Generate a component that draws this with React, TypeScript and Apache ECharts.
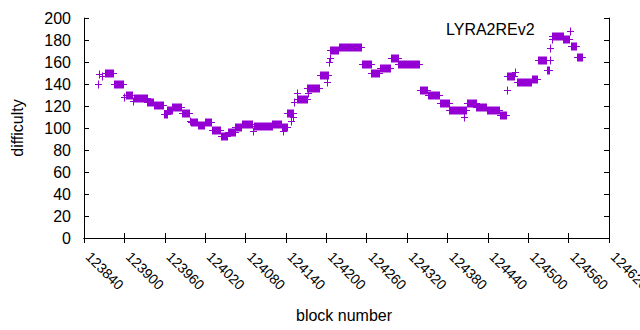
import React, { useEffect, useRef } from "react";
import * as echarts from "echarts";

// Runs of consecutive blocks sharing one difficulty value (a single block = one "+" mark)
const runStart = [
  123861, 123862, 123866, 123871, 123885, 123899, 123902, 123913, 123915, 123934,
  123944, 123959, 123964, 123971, 123985, 123997, 123999, 124009, 124020, 124030,
  124043, 124054, 124065, 124074, 124091, 124093, 124120, 124134, 124136, 124142,
  124148, 124150, 124152, 124156, 124157, 124172, 124173, 124191, 124201, 124204,
  124205, 124206, 124219, 124253, 124267, 124280, 124296, 124307, 124339, 124351,
  124369, 124383, 124405, 124409, 124423, 124438, 124458, 124468, 124469, 124481,
  124484, 124505, 124514, 124528, 124532, 124533, 124535, 124536, 124552, 124562,
  124563, 124572,
];
const runEnd = [
  123861, 123862, 123866, 123883, 123898, 123899, 123912, 123913, 123933, 123943,
  123958, 123963, 123970, 123984, 123996, 123997, 124008, 124019, 124029, 124042,
  124053, 124064, 124073, 124090, 124091, 124119, 124133, 124141, 124136, 124150,
  124148, 124150, 124152, 124156, 124171, 124189, 124173, 124203, 124201, 124204,
  124205, 124218, 124251, 124266, 124279, 124294, 124306, 124338, 124350, 124368,
  124382, 124408, 124405, 124422, 124437, 124457, 124467, 124468, 124479, 124481,
  124504, 124513, 124527, 124531, 124532, 124533, 124535, 124551, 124561, 124562,
  124571, 124580,
];
const runValue = [
  140, 149, 147, 150, 140, 128, 130, 125, 127, 124,
  120.5, 112.5, 116, 119.5, 114, 106, 105.5, 103, 105.5, 98,
  93, 96, 101, 104, 97.5, 102, 104, 100.5, 97, 114,
  106, 110, 124, 132, 126.5, 136.5, 132, 148, 141.5, 160,
  164, 171, 173.5, 158.5, 150, 155, 164, 158.5, 134.5, 130,
  122.5, 116, 110, 122.5, 119, 116.5, 111.5, 135, 147, 151,
  142, 144.5, 162, 152.5, 162, 173, 181, 184, 180.5, 188,
  174.5, 164.5,
];

const xMin = 123840;
const xMax = 124620;
const xStep = 60;
const yMin = 0;
const yMax = 200;
const yStep = 20;

const seriesTitle = "LYRA2REv2";
const xTitle = "block number";
const yTitle = "difficulty";

const COLOR = "#9400D3";
const FONT = "'Liberation Sans', Arial, sans-serif";

export default function App() {
  const ref = useRef<HTMLDivElement>(null);
  useEffect(() => {
    if (!ref.current) return;
    document.body.style.margin = "0";
    const chart = echarts.init(ref.current, null, { renderer: "svg" });
    const data = runStart.map((s, i) => [s, runEnd[i], runValue[i]]);
    const tickStyle = { show: true, inside: true, length: 5, lineStyle: { color: "#000" } };
    const lineStyle = { show: true, lineStyle: { color: "#000", width: 1 } };
    chart.setOption({
      animation: false,
      textStyle: { fontFamily: FONT },
      title: {
        text: seriesTitle,
        left: 446,
        top: 21,
        padding: 0,
        textStyle: { fontFamily: FONT, fontSize: 16, fontWeight: "normal", color: "#000" },
      },
      grid: {
        left: 84,
        right: 31,
        top: 18,
        bottom: 92,
        containLabel: false,
        outerBoundsMode: "none",
        show: false,
      },
      xAxis: [
        {
          type: "value",
          min: xMin,
          max: xMax,
          interval: xStep,
          position: "bottom",
          axisLine: lineStyle,
          axisTick: tickStyle,
          splitLine: { show: false },
          axisLabel: {
            rotate: -45,
            margin: 12,
            padding: [0, 0, 0, 6],
            fontSize: 14,
            color: "#000",
            fontFamily: FONT,
            showMinLabel: true,
            showMaxLabel: true,
            formatter: (v: number) => String(v),
          },
        },
        {
          type: "value",
          min: xMin,
          max: xMax,
          interval: xStep,
          position: "top",
          axisLine: lineStyle,
          axisTick: tickStyle,
          splitLine: { show: false },
          axisLabel: { show: false },
        },
      ],
      yAxis: [
        {
          type: "value",
          min: yMin,
          max: yMax,
          interval: yStep,
          position: "left",
          axisLine: lineStyle,
          axisTick: tickStyle,
          splitLine: { show: false },
          axisLabel: { margin: 13, fontSize: 16, color: "#000", fontFamily: FONT },
        },
        {
          type: "value",
          min: yMin,
          max: yMax,
          interval: yStep,
          position: "right",
          axisLine: lineStyle,
          axisTick: tickStyle,
          splitLine: { show: false },
          axisLabel: { show: false },
        },
      ],
      graphic: [
        {
          type: "text",
          x: 17,
          y: 128,
          rotation: Math.PI / 2,
          style: {
            text: yTitle,
            fontSize: 16,
            fontFamily: FONT,
            fill: "#000",
            textAlign: "center",
            textVerticalAlign: "middle",
          },
        },
        {
          type: "text",
          x: 344,
          y: 315,
          style: {
            text: xTitle,
            fontSize: 16,
            fontFamily: FONT,
            fill: "#000",
            textAlign: "center",
            textVerticalAlign: "middle",
          },
        },
      ],
      series: [
        {
          type: "custom",
          name: seriesTitle,
          xAxisIndex: 0,
          yAxisIndex: 0,
          encode: { x: [0, 1], y: 2 },
          clip: false,
          data,
          renderItem: (params: any, api: any) => {
            const s = api.coord([api.value(0), api.value(2)]);
            const e = api.coord([api.value(1), api.value(2)]);
            const y = Math.round(s[1]) + 0.5;
            const x0 = Math.round(s[0]);
            const x1 = Math.round(e[0]);
            return {
              type: "group",
              children: [
                {
                  type: "rect",
                  shape: { x: x0, y: y - 4, width: x1 - x0 + 1, height: 8 },
                  style: { fill: COLOR },
                },
                {
                  type: "line",
                  shape: { x1: x0 - 3, y1: y, x2: x1 + 4, y2: y },
                  style: { stroke: COLOR, lineWidth: 1 },
                },
              ],
            };
          },
        },
      ],
    });
    return () => chart.dispose();
  }, []);
  return <div ref={ref} style={{ width: 640, height: 330 }} />;
}
